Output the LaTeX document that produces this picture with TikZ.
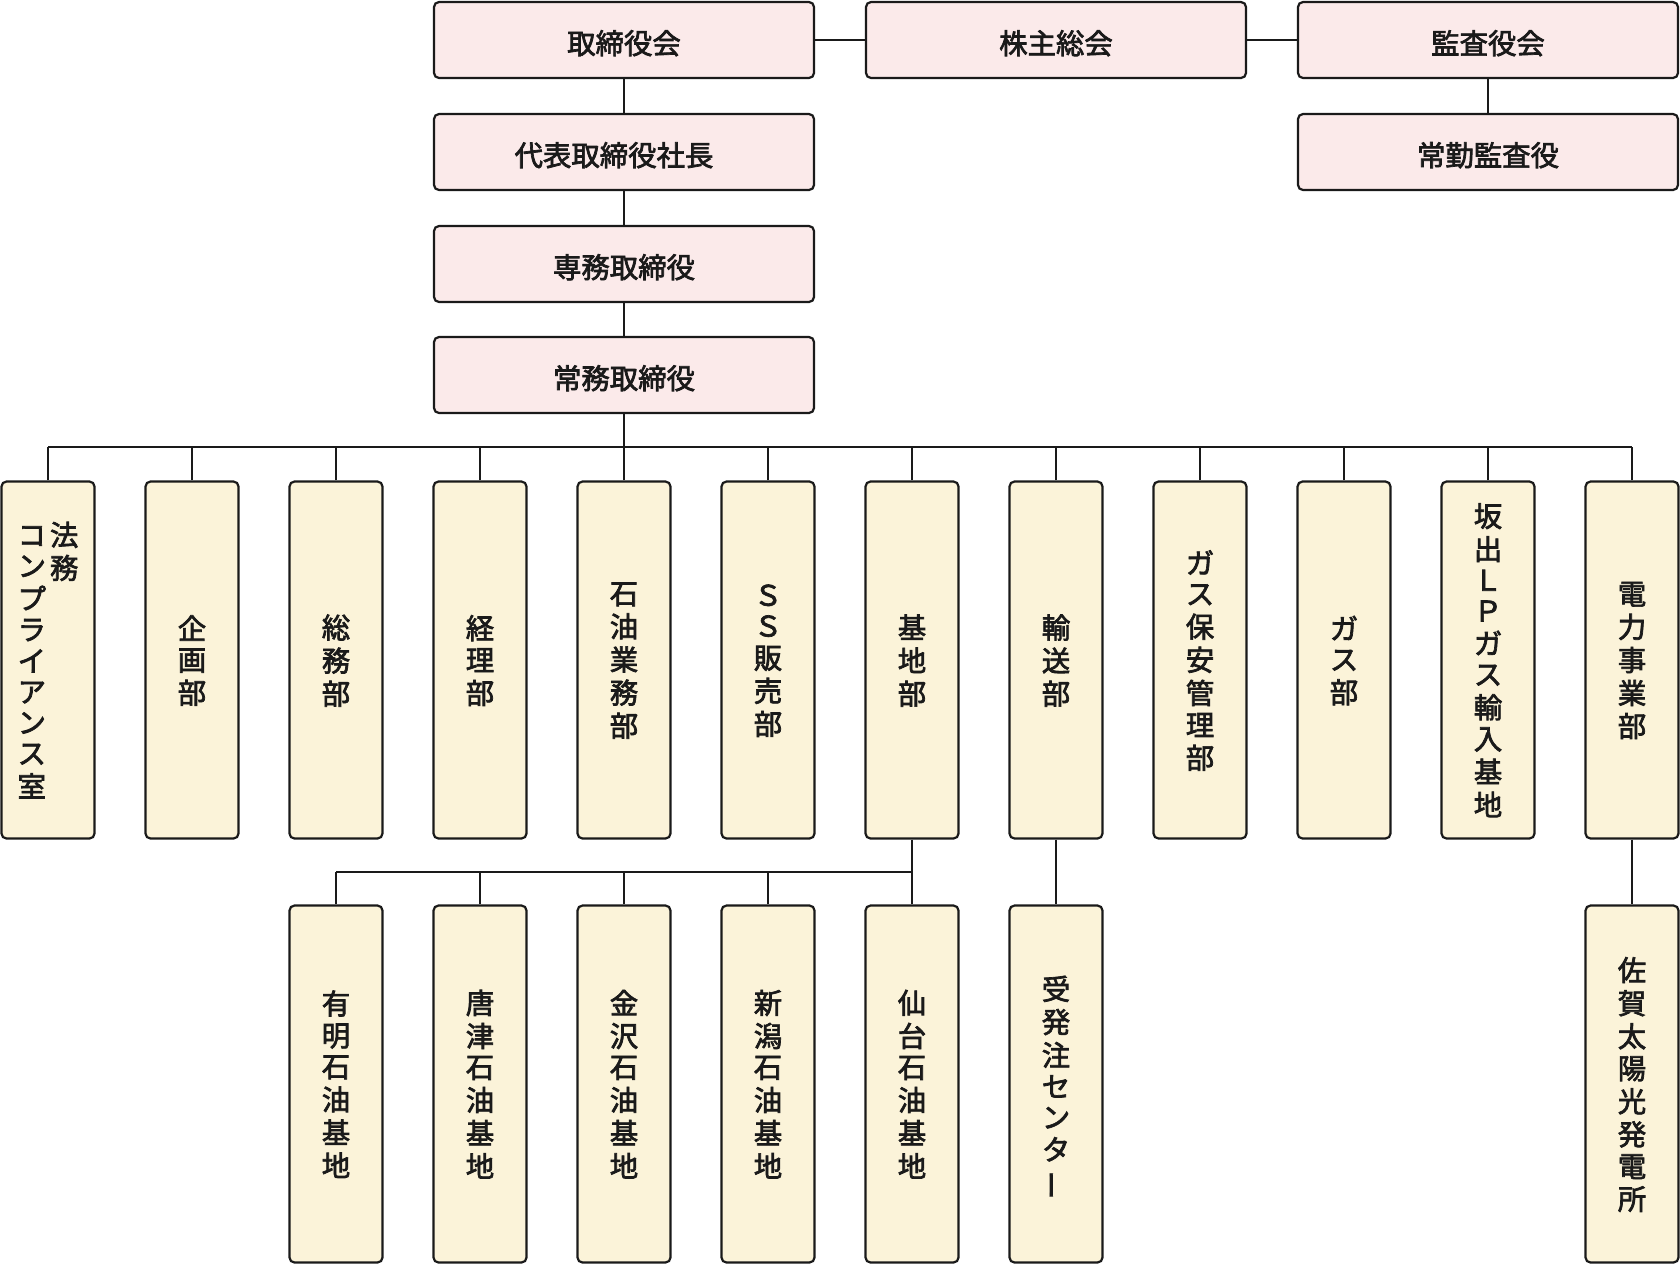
\documentclass[tikz,border=0pt]{standalone}
\usepackage{fontspec}
\setmainfont{Noto Sans CJK JP}
\usetikzlibrary{positioning,calc}
\definecolor{topfill}{RGB}{251,234,234}
\definecolor{deptfill}{RGB}{251,243,217}
\definecolor{inkcol}{RGB}{26,26,26}
% slightly heavier glyphs: fill and stroke the text
\newcommand{\heavy}{\special{pdf:literal direct 2 Tr 0.35 w}}
\tikzset{
  topbox/.style={draw=inkcol, fill=topfill, line width=1.1pt, rounded corners=2.5pt,
    minimum width=190pt, minimum height=38pt, inner sep=0pt, font=\fontsize{14.2}{15.4}\selectfont\heavy, text=inkcol},
  deptbox/.style={draw=inkcol, fill=deptfill, line width=1.1pt, rounded corners=2.5pt,
    minimum width=46.5pt, minimum height=178.5pt, inner sep=0pt, font=\fontsize{14.2}{15.4}\selectfont\heavy, text=inkcol},
  link/.style={draw=inkcol, line width=1pt},
}
% text sits a little below the box centre
\newcommand{\lift}[1]{\raisebox{-1.6pt}[\height][\depth]{#1}}
% one upright character per row
\newcommand{\tate}[1]{\raisebox{-2pt}[\height][\depth]{\begin{tabular}[t]{@{}c@{}}#1\end{tabular}}}
\newcommand{\chou}{\rotatebox[origin=c]{90}{ー}}

\begin{document}
\begin{tikzpicture}[x=0.5pt,y=-0.5pt]
  \useasboundingbox (0,0) rectangle (1680,1266);
  % top management
  \node[topbox] (board)     at (624,40)   {\lift{取締役会}};
  \node[topbox] (meeting)   at (1056,40)  {\lift{株主総会}};
  \node[topbox] (audit)     at (1488,40)  {\lift{監査役会}};
  \node[topbox] (president) at (624,152)  {\lift{代表取締役社長}\kern10pt};
  \node[topbox] (fulltime)  at (1488,152) {\lift{常勤監査役}};
  \node[topbox] (senior)    at (624,264)  {\lift{専務取締役}};
  \node[topbox] (managing)  at (624,375)  {\lift{常務取締役}};
  \draw[link] (board) -- (meeting);
  \draw[link] (meeting) -- (audit);
  \draw[link] (audit) -- (fulltime);
  \draw[link] (board) -- (president);
  \draw[link] (president) -- (senior);
  \draw[link] (senior) -- (managing);
  % departments
  \coordinate (bus) at (0,447);
  \node[deptbox] (d0) at (48,660) {\tate{コ\\ン\\プ\\ラ\\イ\\ア\\ン\\ス\\室}\hspace{2pt}\tate{法\\務}};
  \foreach \i/\txt in {1/{企\\画\\部}, 2/{総\\務\\部}, 3/{経\\理\\部}, 4/{石\\油\\業\\務\\部},
      5/{Ｓ\\Ｓ\\販\\売\\部}, 6/{基\\地\\部}, 7/{輸\\送\\部}, 8/{ガ\\ス\\保\\安\\管\\理\\部},
      9/{ガ\\ス\\部}, 10/{坂\\出\\Ｌ\\Ｐ\\ガ\\ス\\輸\\入\\基\\地}, 11/{電\\力\\事\\業\\部}}
    \node[deptbox] (d\i) at (48+\i*144,660) {\tate{\txt}};
  \draw[link] (managing.south) -- (managing.south |- bus);
  \draw[link] (d0.north |- bus) -- (d11.north |- bus);
  \foreach \i in {0,...,11}
    \draw[link] (d\i.north) -- (d\i.north |- bus);
  % bases under 基地部
  \coordinate (subbus) at (0,872);
  \node[deptbox] (ariake)  at (336,1084) {\tate{有\\明\\石\\油\\基\\地}};
  \node[deptbox] (karatsu) at (480,1084) {\tate{唐\\津\\石\\油\\基\\地}};
  \node[deptbox] (kanazawa) at (624,1084) {\tate{金\\沢\\石\\油\\基\\地}};
  \node[deptbox] (niigata) at (768,1084) {\tate{新\\潟\\石\\油\\基\\地}};
  \node[deptbox] (sendai)  at (912,1084) {\tate{仙\\台\\石\\油\\基\\地}};
  \draw[link] (d6.south) -- (d6.south |- subbus);
  \draw[link] (ariake.north |- subbus) -- (d6.south |- subbus);
  \foreach \b in {ariake,karatsu,kanazawa,niigata,sendai}
    \draw[link] (\b.north) -- (\b.north |- subbus);
  % other sub units
  \node[deptbox] (order) at (1056,1084) {\tate{受\\発\\注\\セ\\ン\\タ\\\chou}};
  \node[deptbox] (solar) at (1632,1084) {\tate{佐\\賀\\太\\陽\\光\\発\\電\\所}};
  \draw[link] (d7) -- (order);
  \draw[link] (d11) -- (solar);
\end{tikzpicture}
\end{document}
